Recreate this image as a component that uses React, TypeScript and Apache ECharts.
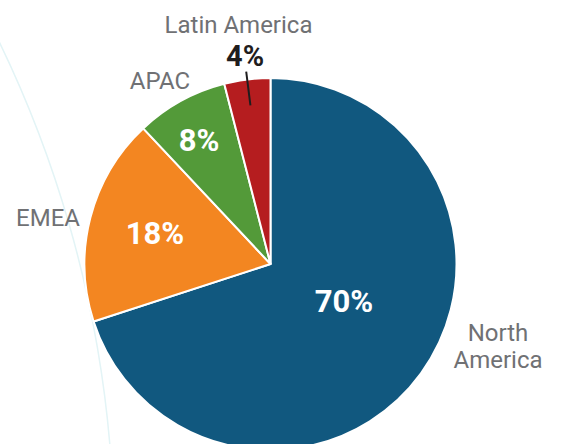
import React, { useEffect, useRef } from "react";
import * as echarts from "echarts";

const categories = ["North America", "EMEA", "APAC", "Latin America"];
const nameLabels = ["North\nAmerica", "EMEA", "APAC", "Latin America"];
const values = [70, 18, 8, 4];
const colors = ["#11587f", "#f38621", "#539a39", "#b51d1f"];

// label anchor positions (px) for inside percentage labels and category names
const pctLabelPos: [number, number][] = [
  [344, 301],
  [155, 233],
  [199, 140],
];
const nameLabelPos: [number, number][] = [
  [498, 346],
  [48, 218],
  [160, 81],
  [238.5, 24.5],
];

const CX = 270.5;
const CY = 264;
const R = 186;
const FONT = "Roboto, 'Noto Sans', sans-serif";

export default function App() {
  const ref = useRef<HTMLDivElement>(null);
  useEffect(() => {
    if (!ref.current) return;
    const chart = echarts.init(ref.current, undefined, { renderer: "svg" });
    const data = categories.map((c, i) => ({
      name: c,
      value: values[i],
      itemStyle: { color: colors[i] },
    }));
    chart.setOption({
      animation: false,
      backgroundColor: "#ffffff",
      graphic: [
        {
          type: "arc",
          z: 0,
          shape: { cx: -1033, cy: 542, r: 1147, startAngle: -0.5, endAngle: -0.06 },
          style: { stroke: "#e3f4f6", lineWidth: 1.5, fill: "none" },
        },
      ],
      series: [
        {
          type: "pie",
          z: 2,
          center: [CX, CY],
          radius: R,
          startAngle: 90,
          clockwise: true,
          silent: true,
          avoidLabelOverlap: false,
          itemStyle: { borderColor: "#ffffff", borderWidth: 2 },
          label: {
            show: true,
            position: "inside",
            formatter: (p: any) => p.value + "%",
            color: "#ffffff",
            fontFamily: FONT,
            fontWeight: "bold",
            fontSize: 31,
          },
          labelLine: { show: false },
          labelLayout: (p: any) => {
            const pos = pctLabelPos[p.dataIndex];
            if (!pos) return {};
            return { x: pos[0], y: pos[1], align: "center", verticalAlign: "middle" };
          },
          data: data.map((d, i) =>
            i === 3 ? { ...d, label: { show: false } } : d
          ),
        },
        {
          type: "pie",
          z: 3,
          center: [CX, CY],
          radius: R,
          startAngle: 90,
          clockwise: true,
          silent: true,
          avoidLabelOverlap: false,
          itemStyle: { color: "rgba(0,0,0,0)", borderWidth: 0 },
          label: {
            show: true,
            position: "outside",
            formatter: (p: any) => nameLabels[p.dataIndex],
            color: "#707174",
            fontFamily: FONT,
            fontSize: 24,
            lineHeight: 27,
            align: "center",
          },
          labelLine: { show: false },
          labelLayout: (p: any) => {
            const pos = nameLabelPos[p.dataIndex];
            return { x: pos[0], y: pos[1], align: "center", verticalAlign: "middle" };
          },
          data: categories.map((c, i) => ({ name: c, value: values[i] })),
        },
        {
          type: "pie",
          z: 4,
          center: [CX, CY],
          radius: 160,
          startAngle: 90,
          clockwise: true,
          silent: true,
          avoidLabelOverlap: false,
          itemStyle: { color: "rgba(0,0,0,0)", borderWidth: 0 },
          label: { show: false },
          labelLine: { show: false },
          data: categories.map((c, i) =>
            i === 3
              ? {
                  name: c,
                  value: values[i],
                  label: {
                    show: true,
                    position: "outside",
                    formatter: (p: any) => p.value + "%\n ",
                    color: "#1f1d1e",
                    fontFamily: FONT,
                    fontWeight: "bold",
                    fontSize: 29,
                    lineHeight: 31,
                    distanceToLabelLine: -18,
                  },
                  labelLine: {
                    show: true,
                    length: 34,
                    length2: 0,
                    smooth: false,
                    lineStyle: { color: "#1f1d1e", width: 2 },
                  },
                }
              : { name: c, value: values[i] }
          ),
        },
      ],
    });
    return () => chart.dispose();
  }, []);
  return (
    <div
      ref={ref}
      style={{ position: "absolute", left: 0, top: 0, width: 561, height: 444 }}
    />
  );
}
